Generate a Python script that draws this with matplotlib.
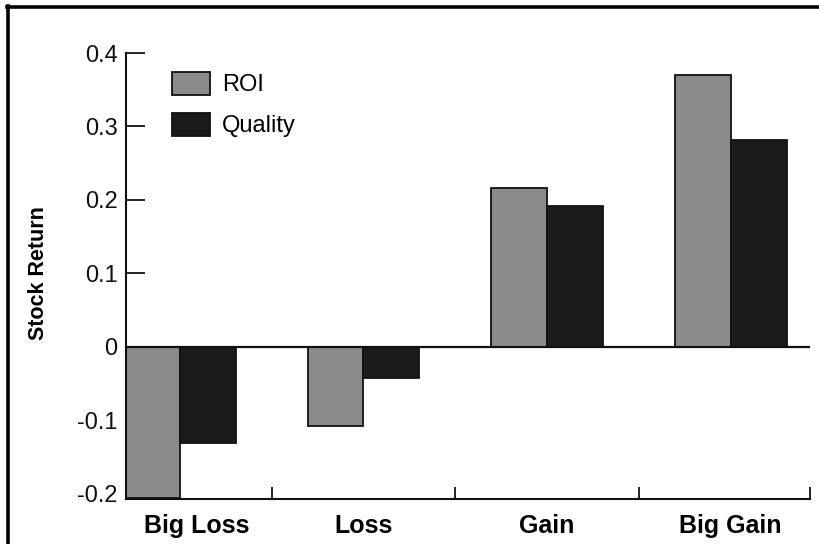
import matplotlib
matplotlib.use("Agg")
import matplotlib.pyplot as plt
from matplotlib.lines import Line2D
from matplotlib.transforms import ScaledTranslation
import numpy as np

categories = ["Big Loss", "Loss", "Gain", "Big Gain"]
roi = [-0.205, -0.107, 0.216, 0.370]
quality = [-0.131, -0.043, 0.192, 0.282]
series_names = ["ROI", "Quality"]
ytick_values = [0.4, 0.3, 0.2, 0.1, 0.0, -0.1, -0.2]
ytick_labels = ["0.4", "0.3", "0.2", "0.1", "0", "-0.1", "-0.2"]
ylabel = "Stock Return"

plt.rcParams["font.family"] = ["Liberation Sans", "DejaVu Sans"]

W, H = 820, 544
fig = plt.figure(figsize=(W / 100, H / 100), dpi=100)
fig.patch.set_facecolor("white")

# axes box in pixels: left 126, right 810, top 53, bottom 499
ax = fig.add_axes([126 / W, 1 - 499 / H, (810 - 126) / W, (499 - 53) / H])
ax.set_facecolor("none")

x = np.arange(len(categories))
bw = 0.305
gray = "#8b8b8b"
dark = "#1b1b1d"
ax.bar(x - bw / 2, roi, bw, color=gray, edgecolor="#111111", linewidth=1.3,
       label=series_names[0], zorder=2)
ax.bar(x + bw / 2, quality, bw, color=dark, edgecolor="#111111", linewidth=1.3,
       label=series_names[1], zorder=2)

ax.axhline(0, color="#111111", linewidth=1.6, zorder=3)

ax.set_xlim(-0.294, 3.433)
ax.set_ylim(-0.207, 0.4)

for s in ["top", "right"]:
    ax.spines[s].set_visible(False)
for s in ["left", "bottom"]:
    ax.spines[s].set_linewidth(1.5)
    ax.spines[s].set_color("#111111")

ax.set_yticks(ytick_values)
ax.set_yticklabels(ytick_labels, fontsize=17)
ax.tick_params(axis="y", direction="in", length=14, width=1.3, pad=6,
               colors="#111111", labelcolor="#111111")

ax.set_xticks(x)
ax.set_xticklabels(categories, fontsize=18, fontweight="bold")
ax.set_xticks([0.5, 1.5, 2.5, 3.433], minor=True)
ax.tick_params(axis="x", which="major", length=0, pad=11)
ax.tick_params(axis="x", which="minor", direction="in", length=9, width=1.3,
               colors="#111111")
# first category label sits a bit right of its group centre
lbl0 = ax.get_xticklabels()[0]
lbl0.set_transform(lbl0.get_transform() + ScaledTranslation(0.17, 0, fig.dpi_scale_trans))

ax.set_ylabel(ylabel, fontsize=15.5, fontweight="bold")
ax.yaxis.set_label_coords(-0.113, 0.507)

fs = 17
fs_px = fs * 100 / 72
leg = ax.legend(loc="upper left", bbox_to_anchor=((172 - 126) / 684, (499 - 72) / 446),
                frameon=False, fontsize=fs, borderpad=0, borderaxespad=0,
                handlelength=38 / fs_px, handleheight=26 / fs_px,
                handletextpad=0.5, labelspacing=0.7)

# scan frame (top and left border)
fig.add_artist(Line2D([8 / W, 8 / W], [0, 1 - 6 / H], color="black", linewidth=2.6,
                      transform=fig.transFigure))
fig.add_artist(Line2D([7 / W, 1.0], [1 - 7 / H, 1 - 7 / H], color="black", linewidth=2.6,
                      transform=fig.transFigure))

fig.savefig("out.png", dpi=100)
